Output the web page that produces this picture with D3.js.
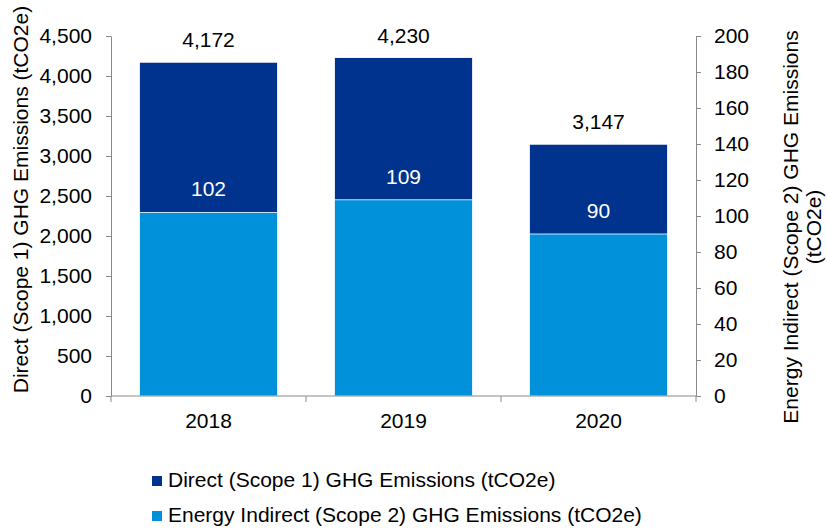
<!DOCTYPE html>
<html>
<head>
<meta charset="utf-8">
<script src="https://cdn.jsdelivr.net/npm/d3@7/dist/d3.min.js"></script>
<style>
  html, body { margin: 0; padding: 0; background: #fff; }
  svg { display: block; font-family: "Liberation Sans", Arial, Helvetica, sans-serif; }
  .axis text { font-size: 21px; fill: #000; }
  .axis path, .axis line { stroke: #8a8a8a; stroke-width: 1; }
</style>
</head>
<body>
<svg id="chart" width="827" height="530"></svg>
<script>
// Emissions by year
const years = ["2018", "2019", "2020"];
const scope1 = [4172, 4230, 3147];   // Direct (Scope 1), tCO2e — left axis
const scope2 = [102, 109, 90];       // Energy Indirect (Scope 2), tCO2e — right axis
const leftTicks = [0, 500, 1000, 1500, 2000, 2500, 3000, 3500, 4000, 4500];
const rightTicks = [0, 20, 40, 60, 80, 100, 120, 140, 160, 180, 200];
const seriesNames = [
  "Direct (Scope 1) GHG Emissions (tCO2e)",
  "Energy Indirect (Scope 2) GHG Emissions (tCO2e)"
];
const colors = ["#00338D", "#0091DA"];

const svg = d3.select("#chart");
const plot = { left: 111, right: 696, top: 36, bottom: 396 };

const x = d3.scaleBand()
  .domain(years)
  .range([plot.left, plot.right])
  .paddingInner(0.292)
  .paddingOuter(0.146);

const yL = d3.scaleLinear().domain([0, 4500]).range([plot.bottom, plot.top]);
const yR = d3.scaleLinear().domain([0, 200]).range([plot.bottom, plot.top]);

const fmt = d3.format(",");

// Scope 1 bars (left scale)
svg.append("g").selectAll("rect")
  .data(years)
  .join("rect")
  .attr("x", d => x(d))
  .attr("width", x.bandwidth())
  .attr("y", (d, i) => yL(scope1[i]))
  .attr("height", (d, i) => yL(0) - yL(scope1[i]))
  .attr("fill", colors[0])
  .attr("stroke", "#ffffff")
  .attr("stroke-width", 0.8);

// Scope 2 bars (right scale), drawn in front
svg.append("g").selectAll("rect")
  .data(years)
  .join("rect")
  .attr("x", d => x(d))
  .attr("width", x.bandwidth())
  .attr("y", (d, i) => yR(scope2[i]))
  .attr("height", (d, i) => yR(0) - yR(scope2[i]))
  .attr("fill", colors[1])
  .attr("stroke", "#ffffff")
  .attr("stroke-width", 0.8);

// Value labels
svg.append("g").selectAll("text")
  .data(years)
  .join("text")
  .attr("x", d => x(d) + x.bandwidth() / 2)
  .attr("y", (d, i) => yL(scope1[i]) - 15)
  .attr("text-anchor", "middle")
  .attr("font-size", 21)
  .attr("fill", "#000")
  .text((d, i) => fmt(scope1[i]));

svg.append("g").selectAll("text")
  .data(years)
  .join("text")
  .attr("x", d => x(d) + x.bandwidth() / 2)
  .attr("y", (d, i) => yR(scope2[i]) - 16)
  .attr("text-anchor", "middle")
  .attr("font-size", 21)
  .attr("fill", "#ffffff")
  .text((d, i) => fmt(scope2[i]));

// Left axis
svg.append("g")
  .attr("class", "axis")
  .attr("transform", `translate(${plot.left},0)`)
  .call(d3.axisLeft(yL).tickValues(leftTicks).tickFormat(fmt)
    .tickSize(5).tickSizeOuter(0).tickPadding(14));

// Right axis
svg.append("g")
  .attr("class", "axis")
  .attr("transform", `translate(${plot.right},0)`)
  .call(d3.axisRight(yR).tickValues(rightTicks).tickFormat(d3.format("d"))
    .tickSize(5).tickSizeOuter(0).tickPadding(13));

// Bottom axis: labels at band centres, tick marks at band boundaries
const xAxis = svg.append("g")
  .attr("class", "axis")
  .attr("transform", `translate(0,${plot.bottom})`)
  .call(d3.axisBottom(x).tickSize(0).tickSizeOuter(0).tickPadding(17));
xAxis.select(".domain").attr("d", `M${plot.left},0H${plot.right}`);

const gap = x.step() * x.paddingInner() / 2;
const boundaries = years.map(d => x(d) - gap).concat([x(years[years.length - 1]) + x.bandwidth() + gap]);
xAxis.selectAll("line.boundary")
  .data(boundaries)
  .join("line")
  .attr("class", "boundary")
  .attr("x1", d => d).attr("x2", d => d)
  .attr("y1", 0).attr("y2", 6);

// Axis titles
svg.append("text")
  .attr("transform", `translate(28,199.5) rotate(-90)`)
  .attr("text-anchor", "middle")
  .attr("font-size", 21)
  .attr("fill", "#000")
  .text("Direct (Scope 1) GHG Emissions (tCO2e)");

const rTitle = svg.append("text")
  .attr("transform", `translate(798,227) rotate(-90)`)
  .attr("text-anchor", "middle")
  .attr("font-size", 21)
  .attr("fill", "#000");
rTitle.append("tspan").attr("x", 0).attr("y", 0).text("Energy Indirect (Scope 2) GHG Emissions");
rTitle.append("tspan").attr("x", 0).attr("y", 23).text("(tCO2e)");

// Legend
const legend = svg.append("g")
  .selectAll("g")
  .data(seriesNames)
  .join("g")
  .attr("transform", (d, i) => `translate(152,${487 + i * 35})`);
legend.append("rect")
  .attr("x", 0).attr("y", -11)
  .attr("width", 10).attr("height", 10)
  .attr("fill", (d, i) => colors[i]);
legend.append("text")
  .attr("x", 16).attr("y", 0)
  .attr("font-size", 21)
  .attr("fill", "#000")
  .text(d => d);
</script>
</body>
</html>
